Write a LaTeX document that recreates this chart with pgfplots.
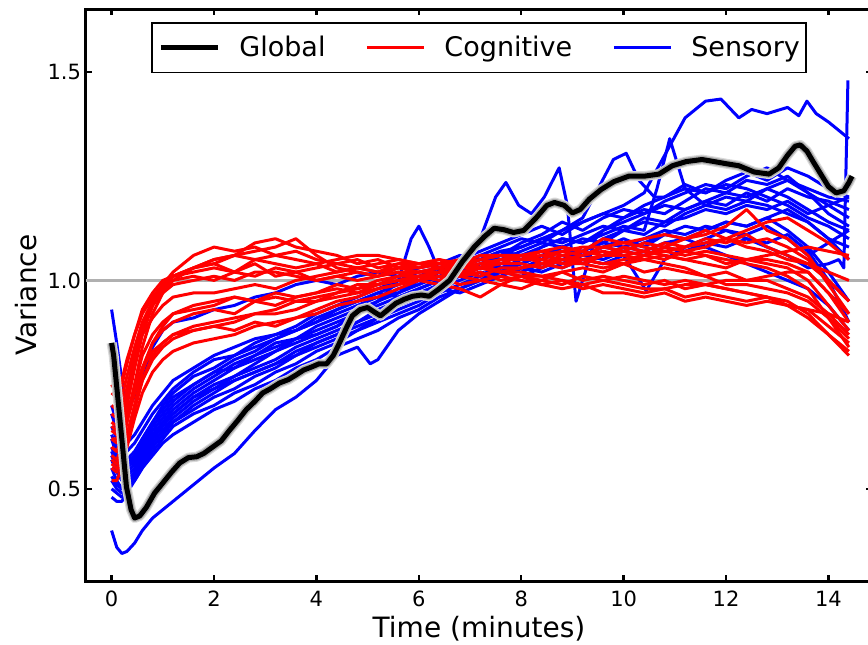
\documentclass[border=0pt]{standalone}
\usepackage{pgfplots}
\pgfplotsset{compat=1.18}
\usepackage{pgfplotstable}
\usepackage{fontspec}
\setmainfont{DejaVu Sans}
\definecolor{hgray}{RGB}{176,176,176}
\pgfplotstableread{
x y
0 0.85
0.04 0.82
0.16 0.67
0.29 0.505
0.38 0.45
0.45 0.43
0.55 0.435
0.68 0.456
0.84 0.49
1.0 0.514
1.17 0.54
1.33 0.562
1.5 0.575
1.66 0.577
1.8 0.585
1.97 0.60
2.14 0.615
2.3 0.64
2.47 0.665
2.63 0.69
2.8 0.71
2.95 0.73
3.1 0.74
3.28 0.754
3.45 0.762
3.6 0.773
3.75 0.785
3.92 0.793
4.05 0.80
4.2 0.80
4.33 0.82
4.45 0.85
4.58 0.885
4.7 0.915
4.85 0.93
5.0 0.935
5.12 0.925
5.25 0.915
5.4 0.93
5.55 0.945
5.72 0.955
5.88 0.962
6.05 0.965
6.2 0.962
6.4 0.98
6.6 1.0
6.85 1.045
7.08 1.08
7.28 1.105
7.47 1.125
7.65 1.122
7.85 1.115
8.05 1.12
8.29 1.15
8.5 1.18
8.65 1.187
8.84 1.18
9.0 1.162
9.15 1.17
9.33 1.195
9.56 1.218
9.81 1.237
10.1 1.25
10.4 1.25
10.69 1.255
10.95 1.275
11.22 1.285
11.53 1.29
11.77 1.285
12.0 1.28
12.25 1.275
12.55 1.26
12.84 1.255
13.03 1.27
13.2 1.30
13.35 1.322
13.45 1.325
13.58 1.31
13.7 1.285
13.85 1.255
14.0 1.225
14.15 1.21
14.3 1.215
14.4 1.235
14.46 1.25
}\globaltable
\begin{document}
\begin{tikzpicture}
\begin{axis}[
  scale only axis, width=393pt, height=286pt,
  xmin=-0.5, xmax=14.85, ymin=0.279, ymax=1.651,
  xtick={0,2,4,6,8,10,12,14},
  ytick={0.5,1,1.5}, yticklabels={0.5,1.0,1.5},
  /pgf/number format/assume math mode=true,
  tick align=inside,
  major tick length=3pt,
  every tick/.style={black, line width=1.2pt},
  axis line style={line width=1.5pt},
  tick label style={font=\fontsize{10.5}{12}\selectfont},
  xticklabel style={yshift=-1.5pt},
  yticklabel style={xshift=1pt},
  label style={font=\fontsize{14}{16}\selectfont},
  xlabel={Time (minutes)}, ylabel={Variance},
  x label style={at={(axis description cs:0.5,-0.099)}, anchor=base},
  y label style={at={(axis description cs:-0.0636,0.5)}, anchor=base, rotate=0},
  legend columns=3,
  legend style={at={(axis description cs:0.5,0.977)}, anchor=north,
    draw=black, line width=0.8pt, inner xsep=3pt, inner ysep=4.5pt,
    nodes={inner xsep=0pt, inner ysep=2pt},
    font=\fontsize{13.5}{15}\selectfont,
    /tikz/every even column/.append style={column sep=20pt}},
  legend image code/.code={\draw[#1] (0pt,0pt) -- (28.5pt,0pt);},
  red line/.style={color=red, line width=1.5pt, line join=round, forget plot},
  blue line/.style={color=blue, line width=1.5pt, line join=round, forget plot},
]
\coordinate (O) at (rel axis cs:0,0);
\addlegendimage{black, line width=2.6pt}
\addlegendentry{\hspace*{9.5pt}Global}
\addlegendimage{red, line width=1.5pt}
\addlegendentry{\hspace*{9.5pt}Cognitive}
\addlegendimage{blue, line width=1.5pt}
\addlegendentry{\hspace*{9.5pt}Sensory}

\addplot[hgray, line width=1.5pt, forget plot] coordinates {(-0.5,1)(14.85,1)};

% Sensory (blue)
\addplot[blue line] coordinates {(0,.40)(.1,.36)(.2,.345)(.3,.35)(.45,.37)(.6,.40)(.8,.43)(1,.45)(1.2,.47)(1.6,.51)(2,.55)(2.4,.585)(2.8,.64)(3.2,.69)(3.6,.72)(4,.76)(4.4,.82)(4.8,.84)(5.05,.80)(5.2,.81)(5.6,.88)(6,.92)(6.4,.95)(6.8,.98)(7.2,1.00)(7.6,1.03)(8,1.04)(8.4,1.06)(8.8,1.08)(9.2,1.07)(9.6,1.10)(10,1.12)(10.4,1.11)(10.8,1.14)(11.2,1.15)(11.6,1.17)(12,1.16)(12.4,1.18)(12.8,1.17)(13.2,1.19)(13.6,1.16)(14,1.18)(14.4,1.15)};
\addplot[blue line] coordinates {(0,.93)(.1,.85)(.2,.76)(.3,.70)(.45,.72)(.6,.77)(.8,.84)(1,.88)(1.2,.90)(1.6,.91)(2,.93)(2.4,.94)(2.8,.96)(3.2,.97)(3.6,.99)(4,1.00)(4.4,.99)(4.8,1.01)(5.2,1.02)(5.6,1.01)(6,1.03)(6.4,1.04)(6.8,1.06)(7.2,1.05)(7.6,1.07)(8,1.08)(8.4,1.10)(8.8,1.09)(9.2,1.11)(9.6,1.13)(10,1.12)(10.4,1.15)(10.8,1.14)(11.2,1.17)(11.6,1.19)(12,1.18)(12.4,1.21)(12.8,1.19)(13.2,1.22)(13.6,1.20)(14,1.19)(14.4,1.17)};
\addplot[blue line] coordinates {(0,.62)(.1,.58)(.2,.55)(.3,.55)(.45,.57)(.6,.60)(.8,.64)(1,.67)(1.2,.70)(1.6,.74)(2,.77)(2.4,.80)(2.8,.82)(3.2,.84)(3.6,.86)(4,.87)(4.4,.89)(4.8,.92)(5.2,.94)(5.6,.96)(6,.98)(6.4,1.00)(6.8,1.02)(7.2,1.01)(7.6,1.04)(8,1.06)(8.4,1.05)(8.8,1.08)(9.2,1.10)(9.6,1.09)(10,1.12)(10.4,1.14)(10.8,1.13)(11.2,1.16)(11.6,1.18)(12,1.20)(12.4,1.19)(12.8,1.22)(13.2,1.20)(13.6,1.17)(14,1.14)(14.4,1.12)};
\addplot[blue line] coordinates {(0,.55)(.1,.52)(.2,.50)(.3,.51)(.45,.53)(.6,.56)(.8,.60)(1,.63)(1.2,.66)(1.6,.70)(2,.73)(2.4,.76)(2.8,.78)(3.2,.80)(3.6,.83)(4,.85)(4.4,.87)(4.8,.90)(5.2,.93)(5.6,.95)(6,.97)(6.4,.99)(6.8,1.02)(7.2,1.04)(7.6,1.03)(8,1.05)(8.4,1.08)(8.8,1.10)(9.2,1.09)(9.6,1.12)(10,1.15)(10.4,1.17)(10.8,1.16)(11.2,1.19)(11.6,1.22)(12,1.21)(12.4,1.24)(12.8,1.23)(13.2,1.25)(13.6,1.21)(14,1.18)(14.4,1.20)};
\addplot[blue line] coordinates {(0,.68)(.1,.64)(.2,.60)(.3,.59)(.45,.61)(.6,.64)(.8,.68)(1,.71)(1.2,.74)(1.6,.78)(2,.81)(2.4,.82)(2.8,.85)(3.2,.87)(3.6,.88)(4,.90)(4.4,.92)(4.8,.94)(5.2,.96)(5.6,.97)(6,1.00)(6.4,1.02)(6.8,1.04)(7.2,1.06)(7.6,1.05)(8,1.07)(8.4,1.09)(8.8,1.08)(9.2,1.06)(9.6,1.08)(10,1.10)(10.4,1.08)(10.8,1.11)(11.2,1.13)(11.6,1.12)(12,1.14)(12.4,1.13)(12.8,1.15)(13.2,1.12)(13.6,1.08)(14,1.02)(14.4,.95)};
\addplot[blue line] coordinates {(0,.50)(.1,.49)(.2,.48)(.3,.50)(.45,.53)(.6,.57)(.8,.61)(1,.64)(1.2,.66)(1.6,.69)(2,.72)(2.4,.74)(2.8,.77)(3.2,.79)(3.6,.82)(4,.84)(4.4,.86)(4.8,.88)(5.2,.91)(5.6,.93)(6,.95)(6.4,.98)(6.8,1.00)(7.2,1.02)(7.6,1.01)(8,1.03)(8.4,1.02)(8.8,1.04)(9.2,1.06)(9.6,1.05)(10,1.07)(10.4,1.06)(10.8,1.08)(11.2,1.07)(11.6,1.09)(12,1.08)(12.4,1.10)(12.8,1.09)(13.2,1.11)(13.6,1.07)(14,1.00)(14.4,.90)};
\addplot[blue line] coordinates {(0,.60)(.1,.57)(.2,.55)(.3,.56)(.45,.58)(.6,.62)(.8,.66)(1,.69)(1.2,.72)(1.6,.75)(2,.78)(2.4,.79)(2.8,.82)(3.2,.85)(3.6,.86)(4,.89)(4.4,.91)(4.8,.93)(5.2,.95)(5.6,.98)(6,.99)(6.4,1.01)(6.8,1.03)(7.2,1.05)(7.6,1.06)(8,1.08)(8.4,1.10)(8.8,1.12)(9.2,1.14)(9.6,1.16)(10,1.18)(10.4,1.21)(10.8,1.30)(11.2,1.39)(11.6,1.43)(11.9,1.435)(12.25,1.39)(12.5,1.41)(12.8,1.40)(13.2,1.415)(13.42,1.395)(13.58,1.43)(13.76,1.40)(14,1.38)(14.4,1.34)};
\addplot[blue line] coordinates {(0,.58)(.1,.55)(.2,.53)(.3,.53)(.45,.55)(.6,.58)(.8,.62)(1,.65)(1.2,.68)(1.6,.72)(2,.75)(2.4,.77)(2.8,.80)(3.2,.83)(3.6,.85)(4,.87)(4.4,.89)(4.8,.92)(5.2,.95)(5.6,.97)(6,.99)(6.4,1.02)(6.8,1.05)(7.2,1.10)(7.5,1.20)(7.7,1.235)(7.95,1.18)(8.2,1.16)(8.45,1.20)(8.74,1.27)(8.9,1.18)(9.07,.95)(9.25,1.02)(9.45,1.10)(9.6,1.12)(10,1.14)(10.4,1.16)(10.8,1.18)(11.2,1.17)(11.6,1.19)(12,1.21)(12.4,1.20)(12.8,1.22)(13.2,1.24)(13.6,1.21)(14,1.16)(14.4,1.13)};
\addplot[blue line] coordinates {(0,.65)(.1,.62)(.2,.58)(.3,.57)(.45,.59)(.6,.62)(.8,.66)(1,.70)(1.2,.73)(1.6,.77)(2,.79)(2.4,.82)(2.8,.84)(3.2,.86)(3.6,.88)(4,.91)(4.4,.93)(4.8,.95)(5.2,.97)(5.6,.99)(6,1.01)(6.4,1.03)(6.8,1.04)(7.2,1.06)(7.6,1.08)(8,1.10)(8.4,1.09)(8.8,1.12)(9.2,1.15)(9.5,1.22)(9.8,1.29)(10.05,1.305)(10.3,1.24)(10.6,1.20)(10.8,1.20)(11.2,1.22)(11.6,1.21)(12,1.23)(12.4,1.22)(12.8,1.20)(13.2,1.18)(13.6,1.15)(14,1.13)(14.4,1.10)};
\addplot[blue line] coordinates {(0,.57)(.1,.54)(.2,.52)(.3,.52)(.45,.54)(.6,.58)(.8,.62)(1,.66)(1.2,.69)(1.6,.73)(2,.76)(2.4,.79)(2.8,.81)(3.2,.83)(3.6,.86)(4,.88)(4.4,.90)(4.8,.92)(5.2,.95)(5.6,1.00)(5.85,1.10)(6,1.13)(6.2,1.08)(6.4,1.02)(6.8,1.04)(7.2,1.05)(7.6,1.07)(8,1.06)(8.4,1.08)(8.8,1.10)(9.2,1.09)(9.6,1.11)(10,1.13)(10.4,1.12)(10.65,1.22)(10.9,1.34)(11.2,1.22)(11.6,1.18)(12,1.17)(12.4,1.19)(12.8,1.18)(13.2,1.16)(13.6,1.14)(14,1.10)(14.4,1.08)};
\addplot[blue line] coordinates {(0,.52)(.1,.50)(.2,.49)(.3,.50)(.45,.52)(.6,.55)(.8,.59)(1,.62)(1.2,.65)(1.6,.68)(2,.70)(2.4,.73)(2.8,.75)(3.2,.78)(3.6,.80)(4,.83)(4.4,.85)(4.8,.88)(5.2,.90)(5.6,.92)(6,.94)(6.4,.97)(6.8,.99)(7.2,1.01)(7.6,1.03)(8,1.02)(8.4,1.04)(8.8,1.03)(9.2,1.05)(9.6,1.04)(10,1.06)(10.44,.975)(10.8,1.05)(11.2,1.08)(11.6,1.10)(12,1.12)(12.4,1.11)(12.8,1.13)(13.2,1.10)(13.6,1.06)(14,1.09)(14.4,1.12)};
\addplot[blue line] coordinates {(0,.63)(.1,.60)(.2,.57)(.3,.56)(.45,.58)(.6,.61)(.8,.65)(1,.68)(1.2,.71)(1.6,.75)(2,.78)(2.4,.81)(2.8,.83)(3.2,.86)(3.6,.88)(4,.90)(4.4,.93)(4.8,.95)(5.2,.97)(5.6,.96)(6,.98)(6.4,1.00)(6.8,1.02)(7.2,1.04)(7.6,1.06)(8,1.09)(8.4,1.11)(8.8,1.14)(9.2,1.12)(9.6,1.15)(10,1.17)(10.4,1.16)(10.8,1.19)(11.2,1.21)(11.6,1.23)(12,1.22)(12.4,1.25)(12.8,1.27)(13.2,1.24)(13.6,1.22)(14,1.20)(14.4,1.19)};
\addplot[blue line] coordinates {(0,.59)(.1,.56)(.2,.54)(.3,.54)(.45,.56)(.6,.59)(.8,.63)(1,.66)(1.2,.68)(1.6,.72)(2,.74)(2.4,.77)(2.8,.79)(3.2,.81)(3.6,.84)(4,.86)(4.4,.88)(4.8,.90)(5.2,.92)(5.6,.94)(6,.96)(6.4,.99)(6.8,1.01)(7.2,1.03)(7.6,1.02)(8,1.04)(8.4,1.06)(8.8,1.05)(9.2,1.07)(9.6,1.09)(10,1.08)(10.4,1.10)(10.8,1.12)(11.2,1.11)(11.6,1.13)(12,1.12)(12.4,1.10)(12.8,1.08)(13.2,1.06)(13.6,1.03)(14,1.04)(14.2,1.05)(14.3,1.03)(14.38,1.48)};
\addplot[blue line] coordinates {(0,.48)(.1,.47)(.2,.47)(.3,.49)(.45,.52)(.6,.55)(.8,.58)(1,.61)(1.2,.63)(1.6,.66)(2,.69)(2.4,.71)(2.8,.74)(3.2,.76)(3.6,.79)(4,.81)(4.4,.84)(4.8,.86)(5.2,.88)(5.6,.91)(6,.93)(6.4,.96)(6.8,.98)(7.2,1.00)(7.6,1.02)(8,1.01)(8.4,1.03)(8.8,1.05)(9.2,1.04)(9.6,1.06)(10,1.08)(10.4,1.07)(10.8,1.09)(11.2,1.10)(11.6,1.12)(12,1.14)(12.4,1.13)(12.8,1.15)(13.2,1.17)(13.6,1.14)(14,1.10)(14.4,1.05)};
\addplot[blue line] coordinates {(0,.70)(.1,.66)(.2,.62)(.3,.61)(.45,.63)(.6,.66)(.8,.70)(1,.73)(1.2,.76)(1.6,.79)(2,.82)(2.4,.84)(2.8,.86)(3.2,.87)(3.6,.89)(4,.92)(4.4,.94)(4.8,.96)(5.2,.98)(5.6,1.00)(6,1.02)(6.4,1.03)(6.8,1.05)(7.2,1.07)(7.6,1.09)(8,1.11)(8.4,1.13)(8.8,1.11)(9.2,1.14)(9.6,1.16)(10,1.15)(10.4,1.18)(10.8,1.20)(11.2,1.23)(11.6,1.21)(12,1.24)(12.4,1.26)(12.8,1.24)(13.2,1.27)(13.6,1.25)(14,1.22)(14.4,1.20)};
\addplot[blue line] coordinates {(0,.53)(.1,.51)(.2,.50)(.3,.51)(.45,.54)(.6,.57)(.8,.61)(1,.64)(1.2,.67)(1.6,.71)(2,.74)(2.4,.76)(2.8,.78)(3.2,.80)(3.6,.82)(4,.85)(4.4,.87)(4.8,.89)(5.2,.91)(5.6,.94)(6,.96)(6.4,.98)(6.8,.97)(7.2,.99)(7.6,1.01)(8,1.03)(8.4,1.05)(8.8,1.07)(9.2,1.06)(9.6,1.08)(10,1.07)(10.4,1.09)(10.8,1.11)(11.2,1.10)(11.6,1.08)(12,1.06)(12.4,1.04)(12.8,1.02)(13.2,1.00)(13.6,.98)(14,.94)(14.4,.88)};

% Cognitive (red)
\addplot[red line] coordinates {(0,.62)(.1,.61)(.2,.64)(.3,.70)(.45,.79)(.6,.87)(.8,.94)(1,.99)(1.2,1.02)(1.6,1.06)(2,1.08)(2.4,1.07)(2.8,1.08)(3.2,1.06)(3.6,1.07)(4,1.05)(4.4,1.04)(4.8,1.05)(5.2,1.03)(5.6,1.04)(6,1.03)(6.4,1.04)(6.8,1.05)(7.2,1.03)(7.6,1.05)(8,1.06)(8.4,1.04)(8.8,1.06)(9.2,1.07)(9.6,1.06)(10,1.08)(10.4,1.07)(10.8,1.09)(11.2,1.08)(11.6,1.10)(12,1.09)(12.4,1.11)(12.8,1.08)(13.2,1.06)(13.6,1.04)(14,1.00)(14.4,.95)};
\addplot[red line] coordinates {(0,.58)(.1,.57)(.2,.60)(.3,.66)(.45,.75)(.6,.84)(.8,.92)(1,.97)(1.2,1.00)(1.6,1.03)(2,1.05)(2.4,1.06)(2.8,1.09)(3.2,1.10)(3.6,1.08)(4,1.07)(4.4,1.06)(4.8,1.04)(5.2,1.05)(5.6,1.03)(6,1.02)(6.4,1.03)(6.8,1.01)(7.2,1.02)(7.6,1.00)(8,1.01)(8.4,.99)(8.8,1.00)(9.2,.98)(9.6,.99)(10,.98)(10.4,.97)(10.8,.98)(11.2,.96)(11.6,.97)(12,.96)(12.4,.95)(12.8,.96)(13.2,.94)(13.6,.93)(14,.89)(14.4,.85)};
\addplot[red line] coordinates {(0,.66)(.1,.65)(.2,.68)(.3,.74)(.45,.82)(.6,.89)(.8,.95)(1,.99)(1.2,1.01)(1.6,1.03)(2,1.04)(2.4,1.02)(2.8,1.04)(3.2,1.01)(3.6,1.02)(4,1.00)(4.4,1.01)(4.8,1.02)(5.2,1.01)(5.6,1.03)(6,1.03)(6.4,1.04)(6.8,1.03)(7.2,1.05)(7.6,1.04)(8,1.06)(8.4,1.05)(8.8,1.07)(9.2,1.06)(9.6,1.08)(10,1.07)(10.4,1.09)(10.8,1.08)(11.2,1.10)(11.6,1.11)(12,1.13)(12.4,1.17)(12.8,1.12)(13.2,1.10)(13.6,1.06)(14,.99)(14.4,.92)};
\addplot[red line] coordinates {(0,.55)(.1,.54)(.2,.57)(.3,.62)(.45,.70)(.6,.78)(.8,.85)(1,.89)(1.2,.92)(1.6,.94)(2,.95)(2.4,.96)(2.8,.95)(3.2,.97)(3.6,.96)(4,.97)(4.4,.99)(4.8,.98)(5.2,1.00)(5.6,1.01)(6,1.01)(6.4,1.02)(6.8,1.01)(7.2,1.03)(7.6,1.02)(8,1.03)(8.4,1.04)(8.8,1.03)(9.2,1.05)(9.6,1.04)(10,1.05)(10.4,1.06)(10.8,1.05)(11.2,1.07)(11.6,1.08)(12,1.10)(12.4,1.12)(12.8,1.14)(13.2,1.15)(13.6,1.12)(14,1.09)(14.4,1.05)};
\addplot[red line] coordinates {(0,.70)(.1,.69)(.2,.72)(.3,.77)(.45,.84)(.6,.90)(.8,.95)(1,.98)(1.2,1.00)(1.6,1.01)(2,1.00)(2.4,1.02)(2.8,1.01)(3.2,1.03)(3.6,1.02)(4,1.03)(4.4,1.04)(4.8,1.03)(5.2,1.04)(5.6,1.05)(6,1.04)(6.4,1.05)(6.8,1.03)(7.2,1.04)(7.6,1.02)(8,1.02)(8.4,1.01)(8.8,1.02)(9.2,1.00)(9.6,1.01)(10,1.00)(10.4,.99)(10.8,1.00)(11.2,.98)(11.6,.99)(12,.98)(12.4,.97)(12.8,.96)(13.2,.95)(13.6,.92)(14,.87)(14.4,.82)};
\addplot[red line] coordinates {(0,.60)(.1,.59)(.2,.61)(.3,.66)(.45,.73)(.6,.79)(.8,.85)(1,.88)(1.2,.90)(1.6,.92)(2,.93)(2.4,.92)(2.8,.95)(3.2,.94)(3.6,.96)(4,.97)(4.4,.98)(4.8,.97)(5.2,.99)(5.6,1.00)(6,1.00)(6.4,.99)(6.8,.98)(7.2,.96)(7.6,.99)(8,1.01)(8.4,1.00)(8.8,1.02)(9.2,1.03)(9.6,1.02)(10,1.04)(10.4,1.05)(10.8,1.06)(11.2,1.05)(11.6,1.06)(12,1.04)(12.4,1.05)(12.8,1.04)(13.2,1.03)(13.6,1.00)(14,.94)(14.4,.88)};
\addplot[red line] coordinates {(0,.64)(.1,.63)(.2,.64)(.3,.68)(.45,.74)(.6,.79)(.8,.83)(1,.85)(1.2,.87)(1.6,.88)(2,.89)(2.4,.88)(2.8,.90)(3.2,.89)(3.6,.91)(4,.93)(4.4,.95)(4.8,.96)(5.2,.98)(5.6,.99)(6,1.00)(6.4,1.01)(6.8,1.02)(7.2,1.01)(7.6,1.03)(8,1.03)(8.4,1.04)(8.8,1.05)(9.2,1.04)(9.6,1.06)(10,1.07)(10.4,1.06)(10.8,1.08)(11.2,1.07)(11.6,1.06)(12,1.05)(12.4,1.04)(12.8,1.03)(13.2,1.01)(13.6,.98)(14,.91)(14.4,.84)};
\addplot[red line] coordinates {(0,.52)(.1,.52)(.2,.55)(.3,.60)(.45,.67)(.6,.73)(.8,.78)(1,.81)(1.2,.83)(1.6,.85)(2,.86)(2.4,.87)(2.8,.89)(3.2,.90)(3.6,.91)(4,.92)(4.4,.94)(4.8,.95)(5.2,.96)(5.6,.98)(6,1.00)(6.4,1.02)(6.8,1.01)(7.2,1.00)(7.6,1.01)(8,1.00)(8.4,.99)(8.8,.98)(9.2,.99)(9.6,.97)(10,.97)(10.4,.96)(10.8,.97)(11.2,.95)(11.6,.96)(12,.95)(12.4,.94)(12.8,.95)(13.2,.94)(13.6,.93)(14,.92)(14.4,.90)};
\addplot[red line] coordinates {(0,.73)(.1,.72)(.2,.75)(.3,.80)(.45,.87)(.6,.93)(.8,.97)(1,1.00)(1.2,1.01)(1.6,1.02)(2,1.03)(2.4,1.02)(2.8,1.05)(3.2,1.04)(3.6,1.03)(4,1.04)(4.4,1.02)(4.8,1.03)(5.2,1.02)(5.6,1.03)(6,1.04)(6.4,1.03)(6.8,1.04)(7.2,1.05)(7.6,1.06)(8,1.05)(8.4,1.07)(8.8,1.08)(9.2,1.07)(9.6,1.10)(10,1.09)(10.4,1.10)(10.8,1.11)(11.2,1.10)(11.6,1.12)(12,1.10)(12.4,1.08)(12.8,1.07)(13.2,1.05)(13.6,1.04)(14,1.02)(14.4,1.00)};
\addplot[red line] coordinates {(0,.68)(.1,.67)(.2,.69)(.3,.74)(.45,.81)(.6,.87)(.8,.91)(1,.94)(1.2,.96)(1.6,.97)(2,.97)(2.4,.98)(2.8,.99)(3.2,.98)(3.6,1.00)(4,1.01)(4.4,1.02)(4.8,1.03)(5.2,1.02)(5.6,1.04)(6,1.04)(6.4,1.05)(6.8,1.04)(7.2,1.06)(7.6,1.06)(8,1.05)(8.4,1.05)(8.8,1.04)(9.2,1.04)(9.6,1.03)(10,1.04)(10.4,1.02)(10.8,1.03)(11.2,1.02)(11.6,1.01)(12,1.02)(12.4,1.00)(12.8,1.00)(13.2,.98)(13.6,.96)(14,.92)(14.4,.87)};
\addplot[red line] coordinates {(0,.57)(.1,.56)(.2,.58)(.3,.63)(.45,.70)(.6,.76)(.8,.82)(1,.85)(1.2,.87)(1.6,.89)(2,.90)(2.4,.91)(2.8,.92)(3.2,.93)(3.6,.95)(4,.96)(4.4,.97)(4.8,.99)(5.2,.99)(5.6,1.01)(6,1.02)(6.4,1.02)(6.8,1.03)(7.2,1.04)(7.6,1.05)(8,1.05)(8.4,1.06)(8.8,1.05)(9.2,1.06)(9.6,1.07)(10,1.06)(10.4,1.07)(10.8,1.06)(11.2,1.05)(11.6,1.04)(12,1.03)(12.4,1.05)(12.8,1.06)(13.2,1.07)(13.6,1.08)(14,1.07)(14.4,1.06)};
\addplot[red line] coordinates {(0,.62)(.1,.62)(.2,.66)(.3,.72)(.45,.81)(.6,.88)(.8,.94)(1,.98)(1.2,1.01)(1.6,1.03)(2,1.05)(2.4,1.06)(2.8,1.07)(3.2,1.08)(3.6,1.10)(4,1.06)(4.4,1.03)(4.8,1.02)(5.2,1.01)(5.6,1.02)(6,1.00)(6.4,1.01)(6.8,.99)(7.2,1.00)(7.6,.99)(8,.98)(8.4,1.00)(8.8,.99)(9.2,1.01)(9.6,1.00)(10,1.01)(10.4,1.00)(10.8,.99)(11.2,1.00)(11.6,.99)(12,.98)(12.4,.97)(12.8,.96)(13.2,.94)(13.6,.91)(14,.87)(14.4,.83)};
\addplot[red line] coordinates {(0,.60)(.1,.59)(.2,.62)(.3,.67)(.45,.75)(.6,.82)(.8,.87)(1,.90)(1.2,.92)(1.6,.93)(2,.94)(2.4,.96)(2.8,.95)(3.2,.96)(3.6,.95)(4,.95)(4.4,.97)(4.8,.98)(5.2,.99)(5.6,1.00)(6,1.01)(6.4,1.02)(6.8,1.04)(7.2,1.05)(7.6,1.06)(8,1.06)(8.4,1.07)(8.8,1.06)(9.2,1.05)(9.6,1.04)(10,1.04)(10.4,1.06)(10.8,1.07)(11.2,1.08)(11.6,1.09)(12,1.10)(12.4,1.09)(12.8,1.10)(13.2,1.08)(13.6,1.05)(14,1.00)(14.4,.95)};
\addplot[red line] coordinates {(0,.75)(.1,.73)(.2,.76)(.3,.81)(.45,.87)(.6,.92)(.8,.96)(1,.99)(1.2,1.01)(1.6,1.03)(2,1.04)(2.4,1.06)(2.8,1.05)(3.2,1.06)(3.6,1.05)(4,1.04)(4.4,1.05)(4.8,1.06)(5.2,1.06)(5.6,1.05)(6,1.04)(6.4,1.04)(6.8,1.03)(7.2,1.03)(7.6,1.02)(8,1.01)(8.4,1.01)(8.8,1.00)(9.2,.99)(9.6,1.00)(10,.99)(10.4,.98)(10.8,.98)(11.2,.99)(11.6,.99)(12,1.00)(12.4,1.00)(12.8,1.01)(13.2,1.02)(13.6,1.02)(14,.97)(14.4,.90)};
\addplot[red line] coordinates {(0,.56)(.1,.55)(.2,.57)(.3,.62)(.45,.69)(.6,.76)(.8,.81)(1,.84)(1.2,.86)(1.6,.88)(2,.89)(2.4,.90)(2.8,.92)(3.2,.92)(3.6,.93)(4,.95)(4.4,.96)(4.8,.97)(5.2,.98)(5.6,.99)(6,1.01)(6.4,1.00)(6.8,1.02)(7.2,1.03)(7.6,1.04)(8,1.04)(8.4,1.03)(8.8,1.05)(9.2,1.05)(9.6,1.06)(10,1.06)(10.4,1.05)(10.8,1.04)(11.2,1.03)(11.6,1.01)(12,.99)(12.4,.99)(12.8,.98)(13.2,.97)(13.6,.95)(14,.91)(14.4,.86)};
\addplot[red line] coordinates {(0,.65)(.1,.64)(.2,.67)(.3,.73)(.45,.81)(.6,.88)(.8,.94)(1,.97)(1.2,.99)(1.6,1.00)(2,1.01)(2.4,1.00)(2.8,1.02)(3.2,1.02)(3.6,1.01)(4,1.00)(4.4,1.01)(4.8,1.00)(5.2,1.01)(5.6,1.02)(6,1.02)(6.4,1.03)(6.8,1.04)(7.2,1.03)(7.6,1.05)(8,1.05)(8.4,1.06)(8.8,1.07)(9.2,1.08)(9.6,1.08)(10,1.09)(10.4,1.08)(10.8,1.07)(11.2,1.06)(11.6,1.07)(12,1.06)(12.4,1.05)(12.8,1.05)(13.2,1.04)(13.6,1.02)(14,.97)(14.4,.92)};

% Global (black with grey halo)
\addplot[gray!30, line width=5pt, line join=round, forget plot] table[x=x,y=y] {\globaltable};
\addplot[gray!65, line width=3.8pt, line join=round, forget plot] table[x=x,y=y] {\globaltable};
\addplot[black, line width=2.5pt, line join=round, forget plot] table[x=x,y=y] {\globaltable};
\end{axis}
\pgfresetboundingbox
\path[use as bounding box] ([shift={(-43pt,-31.5pt)}]O) rectangle ([shift={(391pt,290.5pt)}]O);
\end{tikzpicture}
\end{document}
